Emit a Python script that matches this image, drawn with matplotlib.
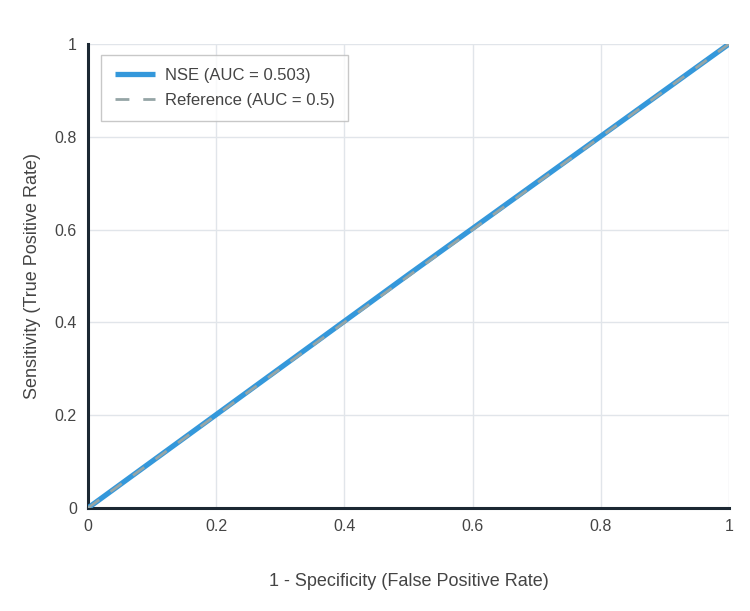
import matplotlib
matplotlib.use("Agg")
import matplotlib.pyplot as plt

fpr = [0.0, 0.5, 1.0]
tpr = [0.0, 0.503, 1.0]
ref_x = [0.0, 1.0]
ref_y = [0.0, 1.0]
ticks = [0, 0.2, 0.4, 0.6, 0.8, 1]
tick_labels = ["0", "0.2", "0.4", "0.6", "0.8", "1"]

plt.rcParams['font.family'] = ['Liberation Sans', 'DejaVu Sans']

fig = plt.figure(figsize=(7.5, 6.11), dpi=100)
ax = fig.add_axes([0.1173, 0.1686, 0.8547, 0.7594])

ax.plot(fpr, tpr, color='#3498db', lw=3.8, label='NSE (AUC = 0.503)', solid_capstyle='butt', zorder=3)
ax.plot(ref_x, ref_y, color='#95a5a6', lw=2, ls=(0, (5, 5)), label='Reference (AUC = 0.5)', zorder=4)

ax.set_xlim(0, 1)
ax.set_ylim(0, 1)
ax.set_xticks(ticks)
ax.set_xticklabels(tick_labels)
ax.set_yticks(ticks)
ax.set_yticklabels(tick_labels)
ax.grid(True, color='#e1e5ea', lw=1)
ax.set_axisbelow(True)
for s in ['top', 'right']:
    ax.spines[s].set_visible(False)
for s in ['left', 'bottom']:
    ax.spines[s].set_color('#1c2833')
    ax.spines[s].set_linewidth(2.2)
ax.tick_params(length=0, pad=8, labelsize=11.5, colors='#444444')
ax.set_xlabel('1 - Specificity (False Positive Rate)', fontsize=13, color='#444444', labelpad=28)
ax.set_ylabel('Sensitivity (True Positive Rate)', fontsize=13, color='#444444', labelpad=10)

leg = ax.legend(loc='upper left', bbox_to_anchor=(0.008, 0.995), fontsize=12, frameon=True,
                fancybox=False, edgecolor='#bbbbbb', handlelength=2.4, handletextpad=0.6,
                borderpad=0.8, labelspacing=0.6)
leg.get_frame().set_linewidth(1)
for t in leg.get_texts():
    t.set_color('#444444')

fig.savefig('out.png', dpi=100, facecolor='white')
